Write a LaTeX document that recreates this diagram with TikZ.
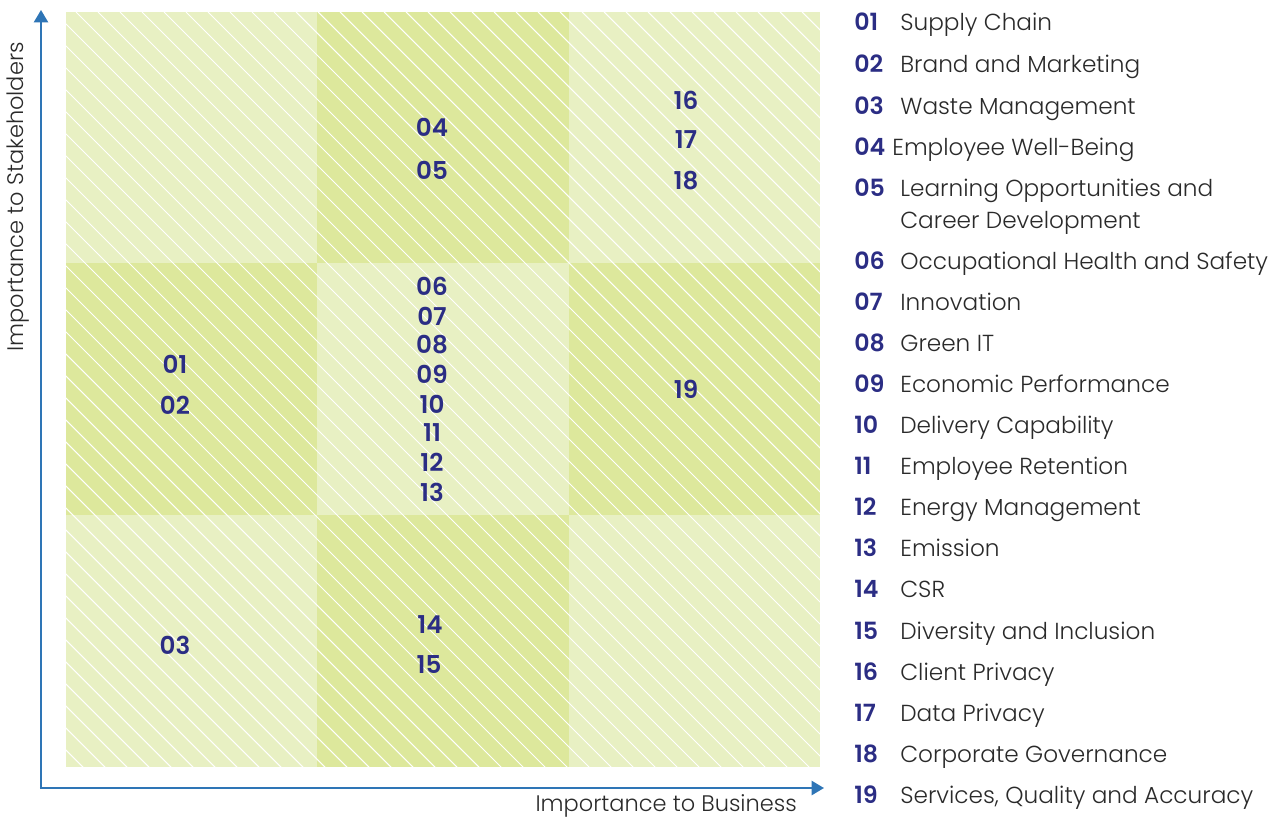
\documentclass[tikz,border=0pt]{standalone}
\usepackage{fontspec}
\setmainfont{Poppins}[UprightFont=* Light, BoldFont=* SemiBold]
\usetikzlibrary{arrows.meta}

\definecolor{cellpale}{HTML}{E8F0C3}
\definecolor{celldeep}{HTML}{DDE89C}
\definecolor{axisblue}{HTML}{2E75B6}
\definecolor{numnavy}{HTML}{2B2D84}
\definecolor{labelgray}{HTML}{2A2A2A}

\tikzset{
  axisline/.style={draw=axisblue, line width=1.2pt, -{Triangle[width=8pt, length=7pt]}},
  stripe/.style={draw=white, line width=0.6pt},
  cellnum/.style={font=\fontsize{14}{16}\selectfont\bfseries, text=numnavy},
  legnum/.style={anchor=base west, inner sep=0pt, font=\fontsize{13.5}{16}\selectfont\bfseries, text=numnavy},
  legtext/.style={anchor=base west, inner sep=0pt, font=\fontsize{13.2}{16}\selectfont, text=labelgray, align=left},
  axislabel/.style={font=\fontsize{12.8}{15}\selectfont, text=labelgray}
}

\begin{document}
\begin{tikzpicture}[x=0.02cm, y=-0.02cm]
  \useasboundingbox (0,0) rectangle (1270,818);

  % 3x3 grid of cells, checkerboard shading
  \fill[cellpale] (66,12) rectangle (317,263);
  \fill[celldeep] (317,12) rectangle (569,263);
  \fill[cellpale] (569,12) rectangle (820,263);
  \fill[celldeep] (66,263) rectangle (317,515);
  \fill[cellpale] (317,263) rectangle (569,515);
  \fill[celldeep] (569,263) rectangle (820,515);
  \fill[cellpale] (66,515) rectangle (317,767);
  \fill[celldeep] (317,515) rectangle (569,767);
  \fill[cellpale] (569,515) rectangle (820,767);

  % diagonal hatching over the whole grid
  \begin{scope}
    \clip (66,12) rectangle (820,767);
    \foreach \s in {-694,-672,...,824}
      \draw[stripe] (\s,12) -- ++(760,760);
  \end{scope}

  % axes
  \coordinate (origin) at (41,788);
  \coordinate (ytip) at (41,10);
  \coordinate (xtip) at (824,788);
  \draw[axisline] ([yshift=-0.6pt]origin) -- (ytip);
  \draw[axisline] ([xshift=-0.6pt]origin) -- (xtip);
  \node[axislabel, rotate=90] (ylab) at (18,197) {Importance to Stakeholders};
  \node[axislabel, anchor=east] (xlab) at (803,806) {Importance to Business};

  % topic numbers placed in the cells
  \node[cellnum] (n01) at (175,364) {01};
  \node[cellnum] (n02) at (175,405) {02};
  \node[cellnum] (n03) at (175,645) {03};
  \node[cellnum] (n04) at (432,127) {04};
  \node[cellnum] (n05) at (432,170) {05};
  \foreach \n/\y in {06/286, 07/316, 08/345, 09/374, 10/404, 11/433, 12/462, 13/492}
    \node[cellnum] (n\n) at (432,\y) {\n};
  \node[cellnum] (n14) at (430,625) {14};
  \node[cellnum] (n15) at (429,664) {15};
  \node[cellnum] (n16) at (686,100) {16};
  \node[cellnum] (n17) at (686,140) {17};
  \node[cellnum] (n18) at (686,181) {18};
  \node[cellnum] (n19) at (686,389) {19};

  % legend (y is the baseline)
  \foreach \n/\y/\t in {01/31/Supply Chain, 02/72/Brand and Marketing, 03/114/Waste Management,
      06/269/Occupational Health and Safety, 07/310/Innovation, 08/351/Green IT,
      09/392/Economic Performance, 10/433/Delivery Capability, 11/474/Employee Retention,
      12/515/Energy Management, 13/556/Emission, 14/597/CSR, 15/639/Diversity and Inclusion,
      16/680/Client Privacy, 17/721/Data Privacy, 18/762/Corporate Governance,
      19/803/{Services, Quality and Accuracy}} {
    \node[legnum] (k\n) at (854,\y) {\n};
    \node[legtext] (l\n) at (900,\y) {\t};
  }
  \node[legnum] (k04) at (854,155) {04};
  \node[legtext] (l04) at (892,155) {Employee Well-Being};
  \node[legnum] (k05) at (854,196) {05};
  \node[legtext] (l05) at (900,196) {Learning Opportunities and};
  \node[legtext] (l05b) at (900,228) {Career Development};
\end{tikzpicture}
\end{document}
